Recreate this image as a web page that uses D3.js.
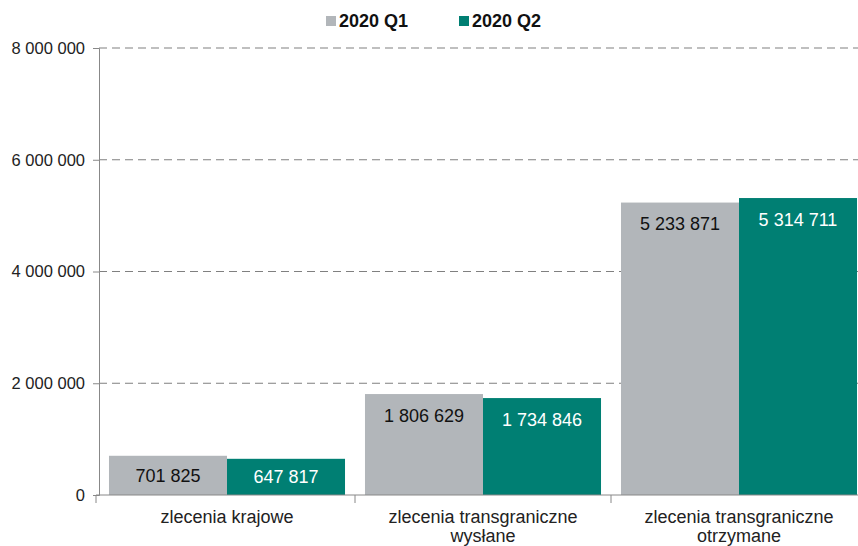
<!DOCTYPE html>
<html>
<head>
<meta charset="utf-8">
<script src="https://cdn.jsdelivr.net/npm/d3@7"></script>
<style>
    body { margin: 0; background: #fff; }
    text { font-family: "Liberation Sans", Arial, sans-serif; }
</style>
</head>
<body>
<script>
// data
const categories = [
    ["zlecenia krajowe"],
    ["zlecenia transgraniczne", "wysłane"],
    ["zlecenia transgraniczne", "otrzymane"]
];
const seriesNames = ["2020 Q1", "2020 Q2"];
const q1Values = [701825, 1806629, 5233871];
const q2Values = [647817, 1734846, 5314711];
const yTicks = [0, 2000000, 4000000, 6000000, 8000000];

const colors = ["#b2b6ba", "#007f73"];
const labelColors = ["#111", "#fff"];

const w = 858, h = 546;
const plotLeft = 99, plotTop = 48, plotBottom = 495;
const band = 256;

const svg = d3.select("body").append("svg")
    .attr("width", w)
    .attr("height", h);

const x = d3.scaleBand()
    .domain(d3.range(categories.length))
    .range([plotLeft, plotLeft + band * categories.length])
    .paddingInner(0.078)
    .paddingOuter(0.039);

const xs = d3.scaleBand()
    .domain(d3.range(seriesNames.length))
    .range([0, x.bandwidth()]);

const y = d3.scaleLinear().domain([0, 8000000]).range([plotBottom, plotTop]);

const fmt = v => d3.format(",")(v).replace(/,/g, " ");

// gridlines
svg.append("g")
    .selectAll("line")
    .data(yTicks.filter(d => d > 0))
    .enter().append("line")
    .attr("x1", plotLeft).attr("x2", w)
    .attr("y1", d => y(d)).attr("y2", d => y(d))
    .attr("stroke", "#808080")
    .attr("stroke-width", 1.2)
    .attr("stroke-dasharray", "8,5");

// y axis
const yAxis = d3.axisLeft(y).tickValues(yTicks).tickSize(6).tickPadding(8).tickFormat(fmt);
const yg = svg.append("g").attr("transform", "translate(" + plotLeft + ",0)").call(yAxis);
yg.select(".domain").attr("stroke", "#888");
yg.selectAll(".tick line").attr("stroke", "#888");
yg.selectAll(".tick text").attr("font-size", 16.5).attr("fill", "#222")
    .attr("font-family", "Liberation Sans, Arial, sans-serif");

// bars
const groups = svg.append("g")
    .selectAll("g")
    .data(categories.map((c, i) => [q1Values[i], q2Values[i]]))
    .enter().append("g")
    .attr("transform", (d, i) => "translate(" + x(i) + ",0)");

groups.selectAll("rect")
    .data(d => d)
    .enter().append("rect")
    .attr("x", (d, j) => xs(j))
    .attr("width", xs.bandwidth())
    .attr("y", d => y(d))
    .attr("height", d => plotBottom - y(d))
    .attr("fill", (d, j) => colors[j]);

groups.selectAll("text")
    .data(d => d)
    .enter().append("text")
    .attr("x", (d, j) => xs(j) + xs.bandwidth() / 2)
    .attr("y", d => Math.min(y(d) + 21, (y(d) + plotBottom) / 2))
    .attr("dy", "0.36em")
    .attr("text-anchor", "middle")
    .attr("font-size", 18)
    .attr("fill", (d, j) => labelColors[j])
    .text(fmt);

// x axis
svg.append("line")
    .attr("x1", plotLeft - 3).attr("x2", w)
    .attr("y1", plotBottom).attr("y2", plotBottom)
    .attr("stroke", "#888");

svg.append("g")
    .selectAll("line")
    .data(d3.range(categories.length))
    .enter().append("line")
    .attr("x1", i => i === 0 ? plotLeft - 3 : x(i) - x.step() * x.paddingInner() / 2)
    .attr("x2", i => i === 0 ? plotLeft - 3 : x(i) - x.step() * x.paddingInner() / 2)
    .attr("y1", plotBottom).attr("y2", plotBottom + 8)
    .attr("stroke", "#888");

const xl = svg.append("g")
    .selectAll("text")
    .data(categories)
    .enter().append("text")
    .attr("x", (d, i) => x(i) + x.bandwidth() / 2)
    .attr("y", 523)
    .attr("text-anchor", "middle")
    .attr("font-size", 18)
    .attr("fill", "#222");

xl.selectAll("tspan")
    .data(d => d)
    .enter().append("tspan")
    .attr("x", function() { return d3.select(this.parentNode).attr("x"); })
    .attr("dy", (d, k) => k === 0 ? 0 : 19)
    .text(d => d);

// legend
const legend = svg.append("g")
    .selectAll("g")
    .data(seriesNames)
    .enter().append("g")
    .attr("transform", (d, i) => "translate(" + (326 + i * 133) + ",21)");

legend.append("rect")
    .attr("x", 0).attr("y", -5)
    .attr("width", 10).attr("height", 10)
    .attr("fill", (d, i) => colors[i]);

legend.append("text")
    .attr("x", 13)
    .attr("dy", "0.36em")
    .attr("font-size", 18)
    .attr("font-weight", "bold")
    .attr("fill", "#111")
    .text(d => d);
</script>
</body>
</html>
